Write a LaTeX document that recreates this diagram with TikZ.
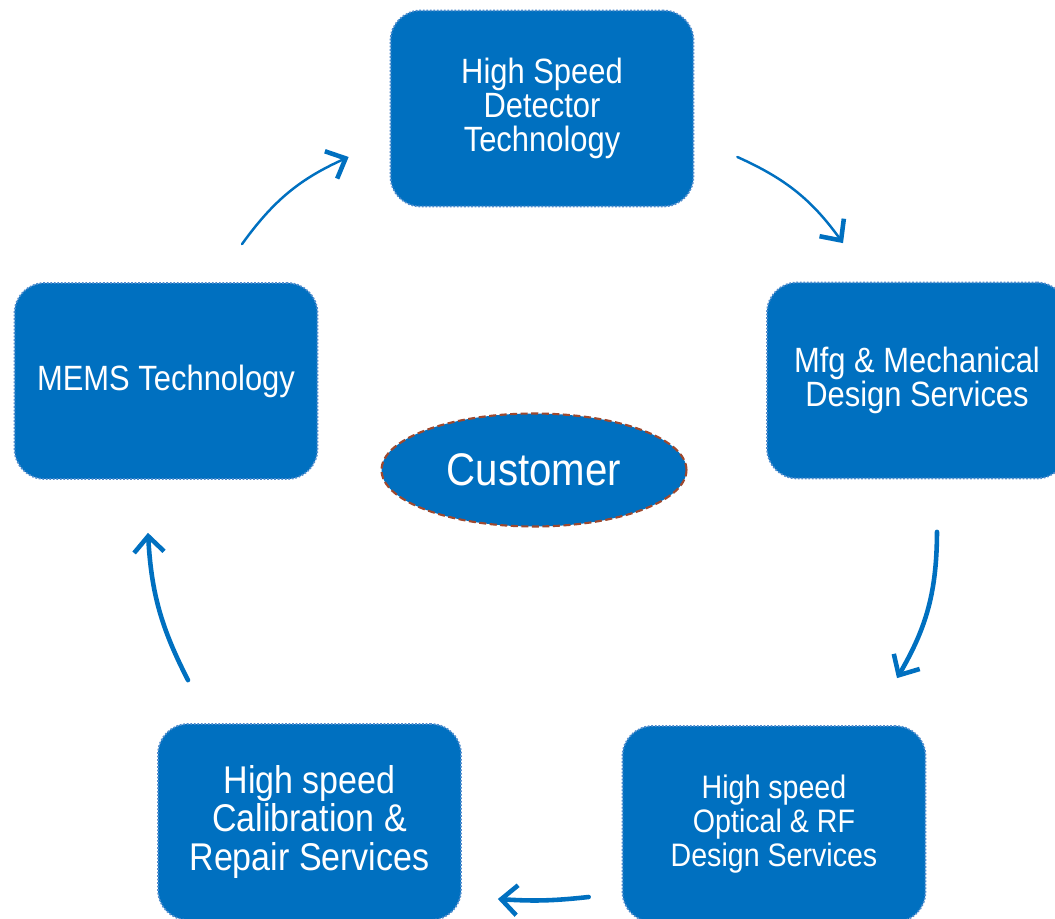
\documentclass[tikz,border=0pt]{standalone}
\usepackage{fontspec}
\setmainfont{Liberation Sans}[FakeStretch=0.88]
\usepackage{xcolor}
\usepackage{tikz}
\usetikzlibrary{arrows.meta,shapes.geometric}

\definecolor{BoxBlue}{RGB}{0,112,192}
\definecolor{EdgeBlue}{RGB}{80,140,205}
\definecolor{EdgeRust}{RGB}{158,72,46}

\begin{document}
\begin{tikzpicture}[x=0.02cm, y=0.02cm,
    block/.style={rectangle, rounded corners=0.6cm, fill=BoxBlue, draw=EdgeBlue,
        densely dotted, line width=1pt, text=white, align=center,
        minimum width=6.06cm, minimum height=3.92cm, font=\fontsize{20}{19.5}\selectfont},
    hub/.style={ellipse, fill=BoxBlue, draw=EdgeRust, dash pattern=on 4pt off 2pt, line width=1.2pt,
        text=white, minimum width=6.1cm, minimum height=2.26cm,
        inner sep=0pt, font=\fontsize{26}{30}\selectfont},
    flow/.style={draw=BoxBlue, line width=2.6pt, line cap=round,
        -{Straight Barb[length=3.2mm, width=6mm, line width=2.6pt]}},
    thinflow/.style={flow, line width=1.4pt}]

        \useasboundingbox (0,0) rectangle (1055,919);
        \clip (0,0) rectangle (1055,919);

        % ---------- Boxes ----------
        \node[block] (detector) at (542,810.5) {High Speed\\Detector\\Technology};
        \node[block, minimum width=6cm] (mfg) at (917,538.5) {Mfg \& Mechanical\\Design Services};
        \node[block, font=\fontsize{18.5}{19.5}\selectfont] (optical) at (774,95) {High speed\\Optical \& RF\\Design Services};
        \node[block, font=\fontsize{22}{22}\selectfont] (calib) at (309.5,97) {High speed\\Calibration \&\\Repair Services};
        \node[block] (mems) at (166,538) {MEMS Technology};

        % centre
        \node[hub] (customer) at (534,449) {Customer};

        % ---------- Arrows ----------
        \draw[thinflow] ([shift={(76,38)}]mems.north) to[bend left=15] ([shift={(-41,-48.5)}]detector.west);
        \draw[thinflow] ([shift={(43,-48.5)}]detector.east) to[bend left=15] ([shift={(-74,38.5)}]mfg.north);
        \draw[flow] ([shift={(20,-52.5)}]mfg.south) to[bend left=15] ([shift={(123,47)}]optical.north);
        \draw[flow] ([shift={(-33,-73)}]optical.west) to[bend left=5] ([shift={(36,-77)}]calib.east);
        \draw[flow] ([shift={(-121.5,43)}]calib.north) to[bend left=12] ([shift={(-18,-53)}]mems.south);

\end{tikzpicture}
\end{document}
